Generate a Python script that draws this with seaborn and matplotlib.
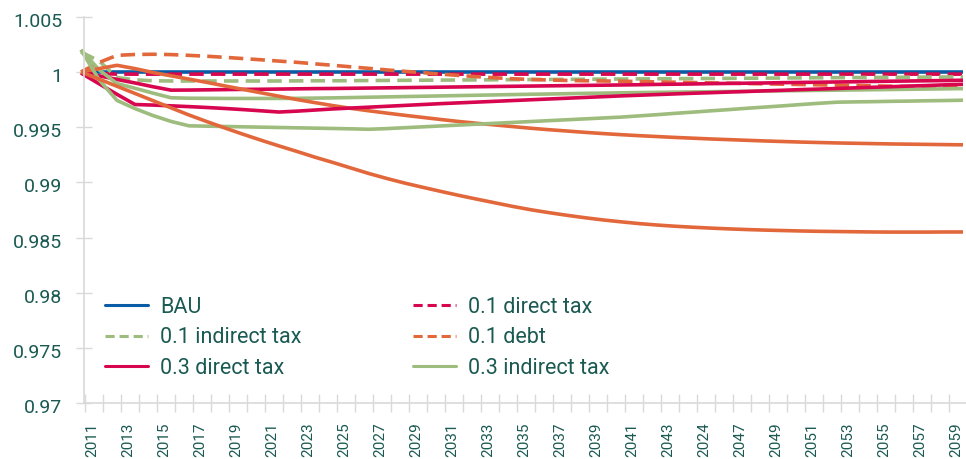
import matplotlib
matplotlib.use("Agg")
import matplotlib.pyplot as plt
from matplotlib.lines import Line2D
from matplotlib.transforms import ScaledTranslation
import pandas as pd
import seaborn as sns

# ---- data ---------------------------------------------------------------
years = list(range(2011, 2061))

# axis labels as printed (every second year)
year_labels = ["2011", "2013", "2015", "2017", "2019", "2021", "2023", "2025",
               "2027", "2029", "2031", "2033", "2035", "2037", "2039", "2041",
               "2043", "2024", "2047", "2049", "2051", "2053", "2055", "2057",
               "2059"]

bau = [1.0, 1.0, 1.0, 1.0, 1.0, 1.0, 1.0, 1.0, 1.0, 1.0,
       1.0, 1.0, 1.0, 1.0, 1.0, 1.0, 1.0, 1.0, 1.0, 1.0,
       1.0, 1.0, 1.0, 1.0, 1.0, 1.0, 1.0, 1.0, 1.0, 1.0,
       1.0, 1.0, 1.0, 1.0, 1.0, 1.0, 1.0, 1.0, 1.0, 1.0,
       1.0, 1.0, 1.0, 1.0, 1.0, 1.0, 1.0, 1.0, 1.0, 1.0]

direct_01 = [1.0, 0.99985, 0.9998, 0.9998, 0.9998, 0.9998, 0.9998, 0.9998, 0.9998, 0.9998,
             0.9998, 0.9998, 0.9998, 0.9998, 0.9998, 0.9998, 0.9998, 0.9998, 0.9998, 0.9998,
             0.9998, 0.9998, 0.9998, 0.9998, 0.9998, 0.9998, 0.9998, 0.9998, 0.9998, 0.9998,
             0.9998, 0.9998, 0.9998, 0.9998, 0.9998, 0.9998, 0.9998, 0.9998, 0.9998, 0.9998,
             0.9998, 0.9998, 0.9998, 0.9998, 0.9998, 0.9998, 0.9998, 0.9998, 0.9998, 0.9998]

indirect_01 = [1.0018, 1.0010, 0.99950, 0.99928, 0.99920, 0.99918, 0.99918, 0.99918, 0.99918, 0.99918,
               0.99918, 0.99918, 0.99919, 0.99920, 0.99920, 0.99921, 0.99922, 0.99923, 0.99924, 0.99925,
               0.99926, 0.99927, 0.99928, 0.99929, 0.99930, 0.99931, 0.99932, 0.99933, 0.99934, 0.99935,
               0.99936, 0.99937, 0.99938, 0.99939, 0.99940, 0.99941, 0.99942, 0.99943, 0.99944, 0.99945,
               0.99946, 0.99947, 0.99948, 0.99949, 0.99950, 0.99951, 0.99952, 0.99953, 0.99954, 0.99955]

debt_01 = [1.0000, 1.00085, 1.00150, 1.00158, 1.00160, 1.00157, 1.00150, 1.00142, 1.00132, 1.00121,
           1.00110, 1.00098, 1.00087, 1.00073, 1.00060, 1.00046, 1.00032, 1.00018, 1.00005, 0.99993,
           0.99980, 0.99968, 0.99957, 0.99947, 0.99938, 0.99932, 0.99927, 0.99923, 0.99920, 0.99918,
           0.99916, 0.99913, 0.99910, 0.99907, 0.99904, 0.99901, 0.99898, 0.99895, 0.99892, 0.99889,
           0.99886, 0.99883, 0.99880, 0.99877, 0.99874, 0.99871, 0.99868, 0.99865, 0.99862, 0.99859]

direct_03 = [0.99995, 0.99965, 0.99932, 0.99900, 0.99866, 0.99835, 0.99836, 0.99838, 0.99840, 0.99842,
             0.99843, 0.99845, 0.99847, 0.99849, 0.99850, 0.99852, 0.99854, 0.99856, 0.99858, 0.99860,
             0.99862, 0.99864, 0.99866, 0.99868, 0.99870, 0.99872, 0.99874, 0.99876, 0.99878, 0.99880,
             0.99882, 0.99884, 0.99887, 0.99889, 0.99891, 0.99894, 0.99896, 0.99898, 0.99900, 0.99903,
             0.99905, 0.99907, 0.99909, 0.99911, 0.99914, 0.99916, 0.99918, 0.99920, 0.99922, 0.99925]

indirect_03 = [1.00200, 1.00020, 0.99895, 0.99852, 0.99808, 0.99766, 0.99762, 0.99761, 0.99760, 0.99760,
               0.99760, 0.99760, 0.99761, 0.99763, 0.99765, 0.99768, 0.99771, 0.99774, 0.99777, 0.99780,
               0.99783, 0.99786, 0.99789, 0.99792, 0.99795, 0.99798, 0.99800, 0.99803, 0.99806, 0.99808,
               0.99811, 0.99813, 0.99815, 0.99817, 0.99819, 0.99821, 0.99823, 0.99825, 0.99827, 0.99829,
               0.99831, 0.99833, 0.99835, 0.99837, 0.99839, 0.99841, 0.99843, 0.99845, 0.99847, 0.99849]

debt_03 = [1.00000, 1.00030, 1.00060, 1.00030, 0.99995, 0.99965, 0.99935, 0.99905, 0.99873, 0.99842,
           0.99811, 0.99780, 0.99750, 0.99722, 0.99695, 0.99670, 0.99648, 0.99627, 0.99607, 0.99588,
           0.99569, 0.99551, 0.99535, 0.99520, 0.99505, 0.99490, 0.99477, 0.99465, 0.99453, 0.99442,
           0.99432, 0.99423, 0.99415, 0.99407, 0.99400, 0.99393, 0.99387, 0.99381, 0.99375, 0.99370,
           0.99365, 0.99361, 0.99357, 0.99354, 0.99351, 0.99348, 0.99346, 0.99344, 0.99342, 0.99340]

direct_05 = [0.99990, 0.99893, 0.99797, 0.99705, 0.99700, 0.99693, 0.99686, 0.99678, 0.99669, 0.99659,
             0.99648, 0.99637, 0.99645, 0.99655, 0.99665, 0.99673, 0.99681, 0.99689, 0.99697, 0.99705,
             0.99713, 0.99720, 0.99727, 0.99734, 0.99741, 0.99748, 0.99755, 0.99762, 0.99769, 0.99776,
             0.99783, 0.99789, 0.99795, 0.99801, 0.99807, 0.99812, 0.99818, 0.99823, 0.99829, 0.99834,
             0.99840, 0.99845, 0.99850, 0.99856, 0.99861, 0.99866, 0.99872, 0.99877, 0.99883, 0.99888]

indirect_05 = [1.00200, 0.99930, 0.99742, 0.99668, 0.99605, 0.99552, 0.99512, 0.99509, 0.99506, 0.99503,
               0.99500, 0.99497, 0.99494, 0.99491, 0.99488, 0.99485, 0.99481, 0.99487, 0.99495, 0.99503,
               0.99511, 0.99519, 0.99527, 0.99535, 0.99543, 0.99551, 0.99559, 0.99567, 0.99575, 0.99583,
               0.99591, 0.99602, 0.99613, 0.99625, 0.99636, 0.99648, 0.99659, 0.99671, 0.99682, 0.99693,
               0.99705, 0.99716, 0.99726, 0.99729, 0.99731, 0.99734, 0.99736, 0.99739, 0.99741, 0.99744]

debt_05 = [1.00000, 0.99935, 0.99870, 0.99805, 0.99740, 0.99675, 0.99610, 0.99550, 0.99492, 0.99436,
           0.99382, 0.99330, 0.99280, 0.99228, 0.99180, 0.99130, 0.99080, 0.99035, 0.98993, 0.98955,
           0.98918, 0.98882, 0.98848, 0.98815, 0.98782, 0.98752, 0.98726, 0.98702, 0.98680, 0.98660,
           0.98643, 0.98627, 0.98614, 0.98603, 0.98594, 0.98586, 0.98579, 0.98573, 0.98568, 0.98564,
           0.98560, 0.98557, 0.98555, 0.98553, 0.98551, 0.98550, 0.98550, 0.98550, 0.98551, 0.98551]

series = {
    "BAU": bau,
    "0.1 direct tax": direct_01,
    "0.1 indirect tax": indirect_01,
    "0.1 debt": debt_01,
    "0.3 direct tax": direct_03,
    "0.3 indirect tax": indirect_03,
    "0.3 debt": debt_03,
    "0.5 direct tax": direct_05,
    "0.5 indirect tax": indirect_05,
    "0.5 debt": debt_05,
}

# ---- styling ------------------------------------------------------------
BLUE = "#0b5ca6"
RED = "#d7064f"
ORANGE = "#e2683c"
GREEN = "#9dbc7d"
TEXT = "#1a5a52"
AXIS = "#d9d9d9"

palette = {
    "BAU": BLUE,
    "0.1 direct tax": RED, "0.1 indirect tax": GREEN, "0.1 debt": ORANGE,
    "0.3 direct tax": RED, "0.3 indirect tax": GREEN, "0.3 debt": ORANGE,
    "0.5 direct tax": RED, "0.5 indirect tax": GREEN, "0.5 debt": ORANGE,
}
dashes = {name: "" for name in series}
for name in ("0.1 direct tax", "0.1 indirect tax", "0.1 debt"):
    dashes[name] = (4, 2)

order = list(series)
rows = []
for name, vals in series.items():
    for i, (yr, v) in enumerate(zip(years, vals)):
        rows.append({"pos": i, "year": yr, "value": v, "scenario": name})
df = pd.DataFrame(rows)

sns.set_theme(style="white")
plt.rcParams["font.family"] = ["Roboto", "DejaVu Sans"]

fig = plt.figure(figsize=(9.66, 4.59), dpi=100)
ax = fig.add_axes([84 / 966, (459 - 403.3) / 459, 882 / 966, 386.6 / 459])

sns.lineplot(data=df, x="pos", y="value", hue="scenario", style="scenario",
             hue_order=order, style_order=order, palette=palette,
             dashes=dashes, linewidth=2.6, errorbar=None, legend=False,
             sort=False, ax=ax)
for ln in ax.lines:
    ln.set_clip_on(False)
    ln.set_solid_capstyle("butt")
    ln.set_dash_capstyle("butt")

# ---- axes ---------------------------------------------------------------
x_left = 3 / 18.0
ax.set_xlim(x_left, x_left + 882 / 18.0)
ax.set_ylim(0.97, 1.005)

yticks = [0.97, 0.975, 0.98, 0.985, 0.99, 0.995, 1.0, 1.005]
ytick_labels = ["0.97", "0.975", "0.98", "0.985", "0.99", "0.995", "1", "1.005"]
ax.set_yticks(yticks)
ax.set_yticklabels(ytick_labels)
ax.tick_params(axis="y", direction="inout", length=11, width=1, color=AXIS,
               labelsize=14, labelcolor=TEXT, pad=10, left=True)
# nudge the value labels slightly below their tick marks
shift = ScaledTranslation(0, -3 / 100, fig.dpi_scale_trans)
for lbl in ax.get_yticklabels():
    lbl.set_transform(lbl.get_transform() + shift)

label_pos = [i + 0.6 for i in range(0, 50, 2)]
ax.set_xticks(label_pos)
ax.set_xticklabels(year_labels, rotation=90)
ax.set_xticks([i + 0.2 for i in range(49)], minor=True)
ax.tick_params(axis="x", which="major", length=0, labelsize=11,
               labelcolor=TEXT, pad=14)
ax.tick_params(axis="x", which="minor", direction="inout", length=13,
               width=1, color=AXIS, bottom=True)

ax.set_xlabel("")
ax.set_ylabel("")
for side in ("top", "right"):
    ax.spines[side].set_visible(False)
for side in ("left", "bottom"):
    ax.spines[side].set_color(AXIS)
    ax.spines[side].set_linewidth(1.2)

# ---- legend -------------------------------------------------------------
legend_items = [
    ("BAU", BLUE, "-"),
    ("0.1 indirect tax", GREEN, (0, (3, 1.6))),
    ("0.3 direct tax", RED, "-"),
    ("0.1 direct tax", RED, (0, (3, 1.6))),
    ("0.1 debt", ORANGE, (0, (3, 1.6))),
    ("0.3 indirect tax", GREEN, "-"),
]
handles = [Line2D([], [], color=c, linestyle=ls, linewidth=2.2)
           for _, c, ls in legend_items]
labels = [n for n, _, _ in legend_items]
ax.legend(handles, labels, ncol=2, frameon=False, fontsize=15.5,
          labelcolor=TEXT, loc="upper left",
          bbox_to_anchor=(105 / 966, 1 - 297 / 459),
          bbox_transform=fig.transFigure, borderpad=0, borderaxespad=0,
          handlelength=2.0, handletextpad=0.55, labelspacing=0.43,
          columnspacing=5.2)

fig.savefig("out.png", dpi=100)
